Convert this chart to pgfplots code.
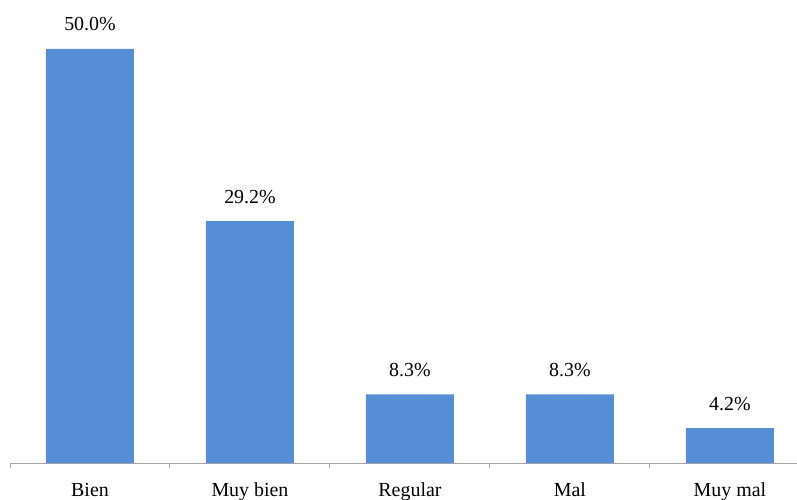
\documentclass[border=0pt]{standalone}
\usepackage{pgfplots}
\pgfplotsset{compat=1.18}
\usepackage{fontspec}
\setmainfont{Liberation Serif}
\definecolor{barblue}{RGB}{85,142,213}
\definecolor{axgray}{RGB}{166,166,166}
\begin{document}
\begin{tikzpicture}
\begin{axis}[
  scale only axis,
  width=787bp, height=463bp,
  xmin=-0.5, xmax=4.419,
  ymin=0, ymax=55.9,
  axis x line=bottom,
  axis y line=none,
  x axis line style={-, draw=axgray, line width=1pt},
  xtick={0,1,2,3,4},
  xticklabels={Bien,Muy bien,Regular,Mal,Muy mal},
  major tick length=0pt,
  minor xtick={-0.5,0.5,1.5,2.5,3.5},
  minor tick length=5bp,
  tick align=outside,
  minor tick style={draw=axgray, line width=1pt},
  xticklabel style={anchor=base, yshift=-33bp},
  font=\fontsize{20}{24}\selectfont,
  /pgf/number format/assume math mode=true,
  clip=false,
]
\addplot[ybar, bar width=0.55, fill=barblue, draw=none,
  nodes near coords={\pgfmathprintnumber[fixed,fixed zerofill,precision=1,assume math mode=true]{\pgfplotspointmeta}\%},
  nodes near coords style={anchor=base, yshift=18bp, black},
  point meta=y]
  coordinates {(0,50.0) (1,29.2) (2,8.3) (3,8.3) (4,4.2)};
\coordinate (BL) at (rel axis cs:0,0);
\coordinate (TR) at (rel axis cs:1,1);
\end{axis}
\pgfresetboundingbox
\path ([shift={(-10bp,-37bp)}]BL) rectangle (TR);
\end{tikzpicture}
\end{document}
